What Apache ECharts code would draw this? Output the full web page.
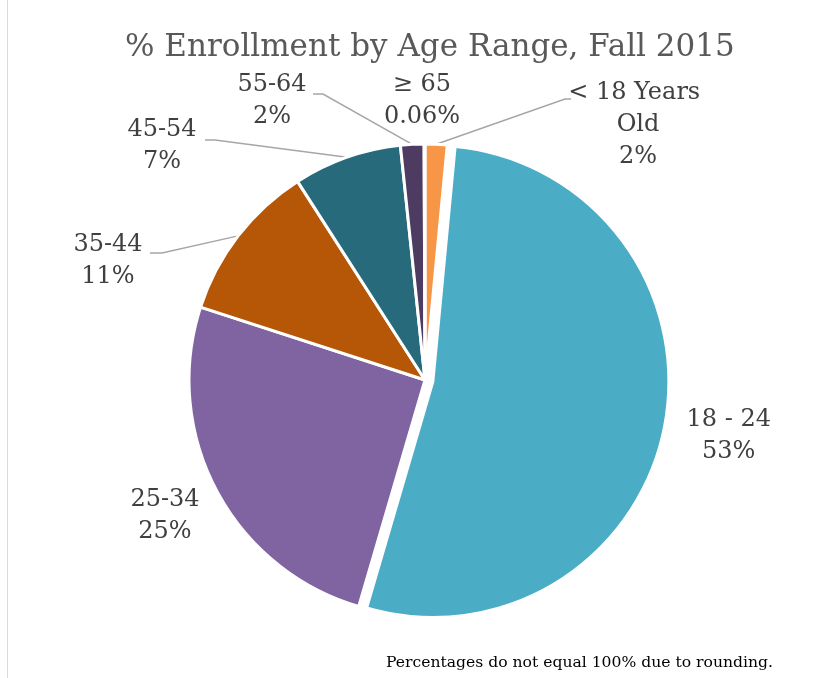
<!DOCTYPE html>
<html><head><meta charset="utf-8">
<script src="https://cdn.jsdelivr.net/npm/echarts@6/dist/echarts.min.js"></script>
<style>html,body{margin:0;padding:0;background:#fff}#c{width:838px;height:678px}</style>
</head><body><div id="c"></div>
<script>
// ---- data ----
const categories = ['< 18 Years Old', '18 - 24', '25-34', '35-44', '45-54', '55-64', '≥ 65'];
const values = [1.5, 52.9, 25.4, 10.9, 7.4, 1.6, 0.06];
const titleText = '% Enrollment by Age Range, Fall 2015';
const noteText = 'Percentages do not equal 100% due to rounding.';

// ---- styles / layout ----
const colors = ['#F79646', '#4BACC6', '#8064A2', '#B65708', '#276A7C', '#4D3B62', '#8C8C8C'];
const labelCenters = [[638,125],null,[165,516],[108,261],[162,146],[272,101],[422,101]];
const leaderBends = [[[565,99],[571,99]], null, null, [[162,253],[150,253]], [[215,140],[205,140]], [[323,94],[313,94]], null];
const FONT = 'DejaVu Serif';

function pctText(v) { return v >= 1 ? Math.round(v) + '%' : v + '%'; }

const data = categories.map((name, i) => {
  const d = { name: name, value: values[i], itemStyle: { color: colors[i] } };
  if (i === 1) {
    d.selected = true;
    d.labelLine = { show: false, length: 50, length2: 10 };
  } else if (!leaderBends[i]) d.labelLine = { show: false };
  if (i === 0) d.label = { width: 150, overflow: 'break' };
  return d;
});

const chart = echarts.init(document.getElementById('c'), null, { renderer: 'canvas' });
chart.setOption({
  animation: false,
  backgroundColor: '#fff',
  title: [
    { text: titleText, left: 120, top: 27,
      textStyle: { fontFamily: FONT, fontSize: 31, fontWeight: 'normal', color: '#595959' } },
    { text: noteText, left: 381, top: 650,
      textStyle: { fontFamily: FONT, fontSize: 15.6, fontWeight: 'normal', color: '#000' } }
  ],
  graphic: [
    { type: 'line', shape: { x1: 7.5, y1: 0, x2: 7.5, y2: 678 }, style: { stroke: '#D9D9D9', lineWidth: 1 } }
  ],
  series: [{
    type: 'pie',
    center: [425, 380],
    radius: 236,
    startAngle: 90,
    clockwise: true,
    selectedMode: 'single',
    selectedOffset: 8,
    emphasis: { scale: false },
    itemStyle: { borderColor: '#fff', borderWidth: 3 },
    label: {
      show: true, position: 'outside',
      fontFamily: FONT, fontSize: 24, lineHeight: 32, color: '#404040', align: 'center',
      formatter: p => p.name + '\n' + pctText(p.value)
    },
    labelLine: { show: true, length: 20, length2: 10, lineStyle: { color: '#A6A6A6', width: 1.5 } },
    labelLayout: function (params) {
      const i = params.dataIndex;
      const c = labelCenters[i];
      if (!c) return { align: 'center' };
      const res = { x: c[0], y: c[1], align: 'center', verticalAlign: 'middle' };
      const b = leaderBends[i];
      if (b && params.labelLinePoints && params.labelLinePoints.length) {
        res.labelLinePoints = [params.labelLinePoints[0], b[0], b[1]];
      }
      return res;
    },
    data: data
  }]
});
</script>
</body></html>
